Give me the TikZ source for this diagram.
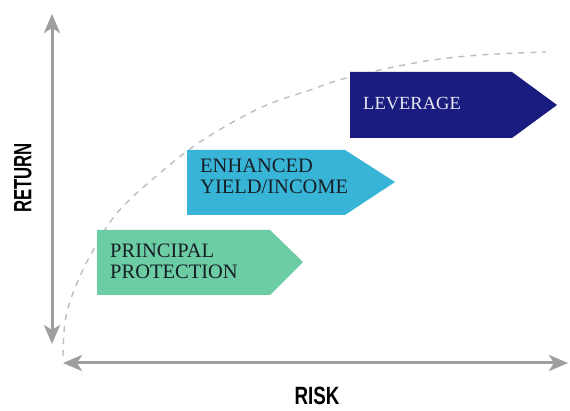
\documentclass[tikz,border=0pt]{standalone}
\usepackage{fontspec}
\setmainfont{Liberation Serif}
\newfontfamily\axisfont{Liberation Sans}
\usetikzlibrary{arrows.meta}
\definecolor{axisgray}{RGB}{158,158,158}
\definecolor{curvegray}{RGB}{190,190,190}
\definecolor{levblue}{RGB}{26,28,128}
\definecolor{enhcyan}{RGB}{56,180,214}
\definecolor{prinsea}{RGB}{108,204,164}
\definecolor{inkdark}{RGB}{22,30,38}
\tikzset{
  axisline/.style={draw=axisgray, line width=3pt,
    {Stealth[length=19pt,width=16pt,inset=5pt]}-{Stealth[length=19pt,width=16pt,inset=5pt]}},
  riskcurve/.style={draw=curvegray, line width=1.4pt, dash pattern=on 6pt off 6pt},
  boxtext/.style={inner sep=0pt, anchor=west, align=left, text=inkdark,
    font=\fontsize{20.5}{20.5}\selectfont},
  axislabel/.style={inner sep=0pt, text=black, font=\axisfont\bfseries\fontsize{25}{25}\selectfont}
}
\begin{document}
\begin{tikzpicture}[x=1pt,y=-1pt]
\useasboundingbox[fill=white] (0,0) rectangle (570,411);
% axes
\coordinate (ytop) at (52,14);
\coordinate (ybot) at (52,344);
\coordinate (xleft) at (63,363);
\coordinate (xright) at (568,363);
\draw[axisline] (ybot) -- (ytop);
\draw[axisline] (xleft) -- (xright);
% curve
\draw[riskcurve] plot[smooth, tension=0.6] coordinates
  {(63,356) (65,322) (73,293) (90,256) (117,213) (160,173) (203,140) (260,108) (310,90) (350,77) (420,62) (480,55) (546,52)};
% boxes
\fill[prinsea] (97,230) -- (270,230) -- (303,262) -- (270,295) -- (97,295) -- cycle;
\fill[enhcyan] (187,150) -- (345,150) -- (395,182) -- (345,215) -- (187,215) -- cycle;
\fill[levblue] (350,72) -- (512,72) -- (557,105) -- (512,138) -- (350,138) -- cycle;
% texts
\node[boxtext] (prin) at (110,261.5) {PRINCIPAL\\PROTECTION};
\node[boxtext] (enh) at (200,176.5) {ENHANCED\\YIELD/INCOME};
\node[boxtext, text={rgb,255:red,232;green,232;blue,240}, font=\fontsize{18.5}{18.5}\selectfont] (lev) at (363,103.5) {LEVERAGE};
\node[axislabel] (risk) at (317,396) {\scalebox{0.75}[1]{RISK}};
\node[axislabel, rotate=90] (ret) at (23,178) {\scalebox{0.67}[1]{RETURN}};
\end{tikzpicture}
\end{document}
